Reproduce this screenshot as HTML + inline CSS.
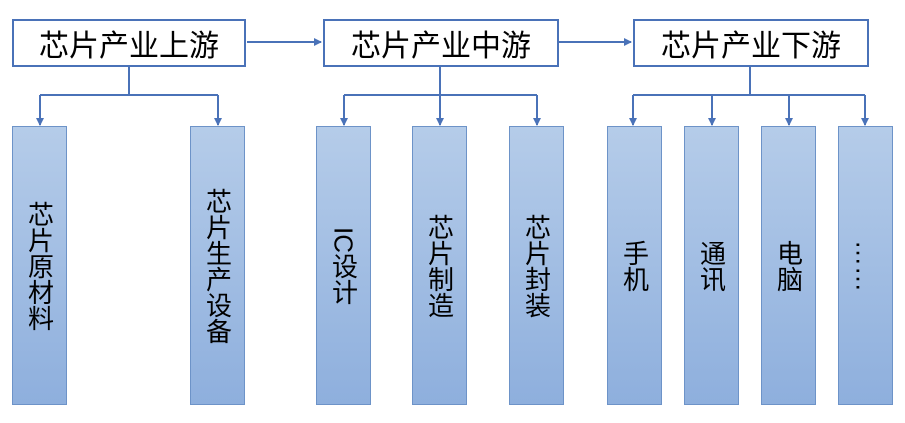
<!DOCTYPE html>
<html><head><meta charset="utf-8"><style>
body{margin:0;width:905px;height:423px;background:#fff;position:relative;overflow:hidden;font-family:"Liberation Sans","Noto Sans CJK SC",sans-serif}
.h{position:absolute;top:19px;height:44px;border:2px solid #4a72b8;box-sizing:content-box;display:flex;align-items:center;justify-content:center;font-size:30px;color:#000;background:#fff}
.b{position:absolute;top:126px;height:279px;width:55px;box-sizing:border-box;border:1px solid #6d93c8;background:linear-gradient(#b5cce9,#8eafdd);display:flex;align-items:center;justify-content:center}
.b span{writing-mode:vertical-rl;font-size:26px;line-height:30px;color:#000}
svg{position:absolute;left:0;top:0}
</style></head><body>
<svg width="905" height="423">
<defs><marker id="a" markerWidth="8" markerHeight="8" refX="7" refY="4" orient="auto" markerUnits="userSpaceOnUse"><path d="M0,0 L8,4 L0,8z" fill="#4a72b8"/></marker></defs>
<g stroke="#4a72b8" stroke-width="2" fill="none">
<line x1="247" y1="42" x2="321" y2="42" marker-end="url(#a)"/>
<line x1="559" y1="42" x2="631" y2="42" marker-end="url(#a)"/>
<line x1="129" y1="65" x2="129" y2="95"/>
<line x1="40" y1="95" x2="218" y2="95"/>
<line x1="40" y1="95" x2="40" y2="125" marker-end="url(#a)"/>
<line x1="218" y1="95" x2="218" y2="125" marker-end="url(#a)"/>
<line x1="440" y1="65" x2="440" y2="125" marker-end="url(#a)"/>
<line x1="344" y1="95" x2="537" y2="95"/>
<line x1="344" y1="95" x2="344" y2="125" marker-end="url(#a)"/>
<line x1="537" y1="95" x2="537" y2="125" marker-end="url(#a)"/>
<line x1="750" y1="65" x2="750" y2="95"/>
<line x1="633" y1="95" x2="865" y2="95"/>
<line x1="633" y1="95" x2="633" y2="125" marker-end="url(#a)"/>
<line x1="712" y1="95" x2="712" y2="125" marker-end="url(#a)"/>
<line x1="789" y1="95" x2="789" y2="125" marker-end="url(#a)"/>
<line x1="865" y1="95" x2="865" y2="125" marker-end="url(#a)"/>
</g></svg>
<div class="h" style="left:12px;width:230px">芯片产业上游</div>
<div class="h" style="left:323px;width:232px">芯片产业中游</div>
<div class="h" style="left:633px;width:232px">芯片产业下游</div>
<div class="b" style="left:12px"><span>芯片原材料</span></div>
<div class="b" style="left:190px"><span>芯片生产设备</span></div>
<div class="b" style="left:316px"><span>IC设计</span></div>
<div class="b" style="left:412px"><span>芯片制造</span></div>
<div class="b" style="left:509px"><span>芯片封装</span></div>
<div class="b" style="left:607px"><span>手机</span></div>
<div class="b" style="left:684px"><span>通讯</span></div>
<div class="b" style="left:761px"><span>电脑</span></div>
<div class="b" style="left:838px"><span>……</span></div>
</body></html>
